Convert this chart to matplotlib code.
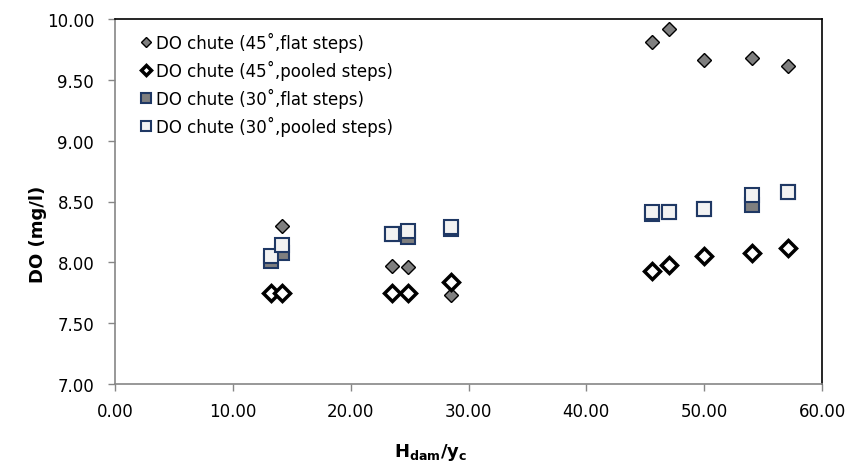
import numpy as np
import matplotlib
matplotlib.use("Agg")
import matplotlib.pyplot as plt

# H_dam / y_c positions
x_all = [13.2, 14.2, 23.5, 24.9, 28.5, 45.6, 47.0, 50.0, 54.1, 57.1]
x_flat45 = [14.2, 23.5, 24.9, 28.5, 45.6, 47.0, 50.0, 54.1, 57.1]

# DO values (mg/l)
do_flat45 = [8.30, 7.97, 7.96, 7.73, 9.81, 9.92, 9.66, 9.68, 9.61]
do_pooled45 = [7.75, 7.75, 7.75, 7.75, 7.84, 7.93, 7.98, 8.05, 8.08, 8.12]
do_flat30 = [8.01, 8.08, 8.23, 8.21, 8.27, 8.40, 8.41, 8.44, 8.47, 8.58]
do_pooled30 = [8.05, 8.14, 8.23, 8.26, 8.29, 8.41, 8.41, 8.44, 8.55, 8.58]

labels = ["DO chute (45˚,flat steps)", "DO chute (45˚,pooled steps)",
          "DO chute (30˚,flat steps)", "DO chute (30˚,pooled steps)"]

plt.rcParams['font.family'] = ['DejaVu Sans']
plt.rcParams['mathtext.fontset'] = 'dejavusans'

W, H = 854, 464
fig = plt.figure(figsize=(W / 100, H / 100), dpi=100)
left, right, top, bottom = 115, 822, 20, 385
ax = fig.add_axes([left / W, 1 - bottom / H, (right - left) / W, (bottom - top) / H])

navy = '#1f3864'
ax.plot(x_flat45, do_flat45, ls='none', marker='D', ms=7.5, mfc='#7f7f7f',
        mec='black', mew=1.0, label=labels[0], zorder=3)
ax.plot(x_all, do_pooled45, ls='none', marker='D', ms=8, mfc='white',
        mec='black', mew=2.5, label=labels[1], zorder=3)
ax.plot(x_all, do_flat30, ls='none', marker='s', ms=10, mfc='#7f7f7f',
        mec=navy, mew=1.5, label=labels[2], zorder=4)
ax.plot(x_all, do_pooled30, ls='none', marker='s', ms=10, mfc='#f2f2f2',
        mec=navy, mew=1.5, label=labels[3], zorder=5)

ax.set_xlim(0, 60)
ax.set_ylim(7.0, 10.0)
ax.set_xticks(np.arange(0, 61, 10))
ax.set_yticks(np.arange(7.0, 10.01, 0.5))
ax.xaxis.set_major_formatter(matplotlib.ticker.FormatStrFormatter('%.2f'))
ax.yaxis.set_major_formatter(matplotlib.ticker.FormatStrFormatter('%.2f'))
ax.tick_params(axis='both', labelsize=12, direction='out', length=5,
               color='#868686', width=1)
ax.tick_params(axis='y', pad=10)
ax.tick_params(axis='x', pad=8)

for s in ['top', 'right']:
    ax.spines[s].set_color('black')
    ax.spines[s].set_linewidth(1.2)
for s in ['left', 'bottom']:
    ax.spines[s].set_color('#868686')
    ax.spines[s].set_linewidth(1.2)

ax.set_xlabel(r'$\mathbf{H_{dam}/y_c}$', fontsize=13, va='center')
ax.xaxis.set_label_coords(0.447, -0.184)
ax.set_ylabel('DO (mg/l)', fontsize=13, fontweight='bold', va='center')
ax.yaxis.set_label_coords(-0.109, 0.414)

ax.legend(loc='upper left', bbox_to_anchor=(138 / W, 1 - 33 / H),
          bbox_transform=fig.transFigure, frameon=False, fontsize=12,
          markerscale=0.65, handlelength=1.0, handletextpad=0.1,
          labelspacing=0.48, borderpad=0, borderaxespad=0)

fig.savefig('out.png', dpi=100)
